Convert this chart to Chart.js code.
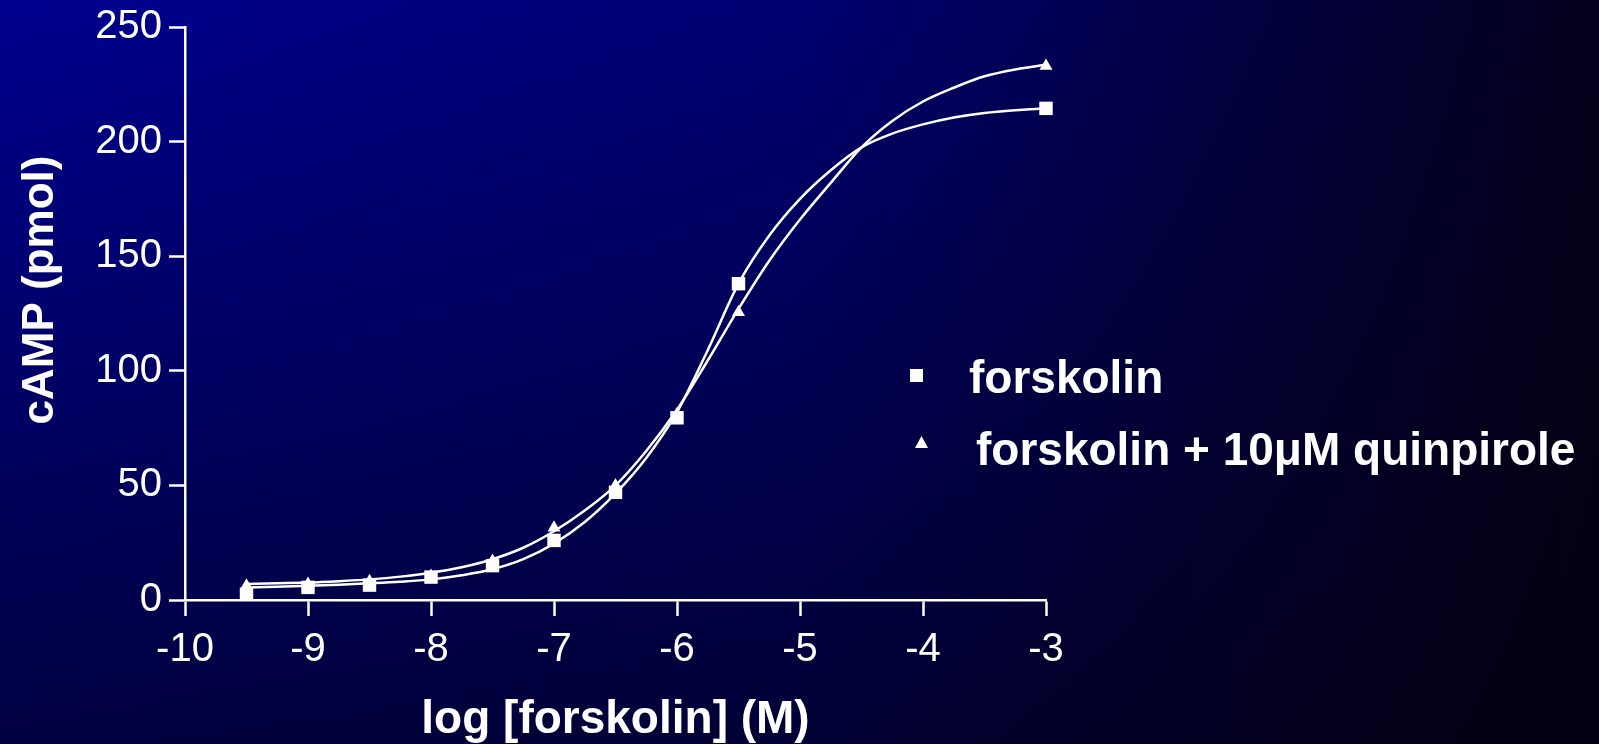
<!DOCTYPE html>
<html>
<head>
<meta charset="utf-8">
<script src="https://cdn.jsdelivr.net/npm/chart.js@4/dist/chart.umd.min.js"></script>
<style>
    html, body { margin: 0; padding: 0; overflow: hidden; background: #000040; }
    canvas { display: block; }
</style>
</head>
<body>
<canvas id="myChart" width="1599" height="744"></canvas>
<script>
//dosis (log M) medidas
const dosisLog = [-9.5, -9, -8.5, -8, -7.5, -7, -6.5, -6, -5.5, -3];
//cAMP (pmol) con forskolina sola
const forskolina = [2.5, 5.5, 6.5, 10, 15, 26, 47, 79.5, 138, 214.5];
//cAMP (pmol) con forskolina + quinpirol 10 uM
const forskolinaQuinpirol = [6.2, 7, 8.2, 10.5, 17, 31.5, 50, 81, 125.5, 233];

//curvas ajustadas, leídas cada 0.25 log
const curvaX = [-9.5, -9.25, -9, -8.75, -8.5, -8.25, -8, -7.75, -7.5, -7.25, -7, -6.75, -6.5,
    -6.25, -6, -5.75, -5.5, -5.25, -5, -4.75, -4.5, -4.25, -4, -3.75, -3.5, -3.25, -3];
const curvaForskolina = [5.5, 5.8, 6.2, 6.7, 7.3, 8.0, 9.0, 10.8, 13.4, 17.8, 24.6, 34, 46.5,
    62, 82, 109, 138, 159, 175, 187.5, 197.5, 203.5, 207.5, 210.5, 212.5, 213.7, 214.5];
const curvaQuinpirol = [7.0, 7.3, 7.6, 8.2, 9.0, 10.2, 11.9, 14.3, 17.8, 22.8, 30, 39, 50,
    65, 83, 104.5, 127, 148, 166, 182, 197.5, 209, 217.5, 223.5, 228.5, 231.5, 233.5];

const etiquetas = ['forskolin', 'forskolin + 10\u03BCM quinpirole'];
const tituloX = 'log [forskolin] (M)';
const tituloY = 'cAMP (pmol)';

const fuente = 'Liberation Sans, Arial, sans-serif';
const blanco = '#ffffff';

const toXY = (xs, ys) => xs.map((x, i) => ({ x: x, y: ys[i] }));

//fondo degradado azul -> negro
const fondo = {
    id: 'fondo',
    beforeDraw: (chart) => {
        const { ctx, width, height } = chart;
        ctx.save();
        const vertical = ctx.createLinearGradient(0, 0, 0, height);
        vertical.addColorStop(0, '#00008f');
        vertical.addColorStop(1, '#000040');
        ctx.fillStyle = vertical;
        ctx.fillRect(0, 0, width, height);
        const horizontal = ctx.createLinearGradient(0, 0, width, 0);
        horizontal.addColorStop(0, 'rgba(4,0,8,0)');
        horizontal.addColorStop(0.5, 'rgba(4,0,8,0.22)');
        horizontal.addColorStop(0.75, 'rgba(4,0,8,0.55)');
        horizontal.addColorStop(1, 'rgba(4,0,8,0.86)');
        ctx.fillStyle = horizontal;
        ctx.fillRect(0, 0, width, height);
        ctx.restore();
    }
};

//titulo eje y y leyenda
const textos = {
    id: 'textos',
    afterDraw: (chart) => {
        const ctx = chart.ctx;
        ctx.save();
        ctx.fillStyle = blanco;

        ctx.save();
        ctx.font = 'bold 44px ' + fuente;
        ctx.translate(41, 290);
        ctx.rotate(-Math.PI / 2);
        ctx.textAlign = 'center';
        ctx.textBaseline = 'middle';
        ctx.fillText(tituloY, 0, 0);
        ctx.restore();

        //marcadores de la leyenda
        ctx.fillRect(910, 369, 13, 13);
        ctx.beginPath();
        ctx.moveTo(921.5, 436);
        ctx.lineTo(928, 448);
        ctx.lineTo(915, 448);
        ctx.closePath();
        ctx.fill();

        ctx.font = 'bold 46px ' + fuente;
        ctx.textAlign = 'left';
        ctx.textBaseline = 'alphabetic';
        ctx.fillText(etiquetas[0], 969, 393);
        ctx.fillText(etiquetas[1], 976, 465);
        ctx.restore();
    }
};

const data = {
    datasets: [{
            label: etiquetas[0],
            data: toXY(dosisLog, forskolina),
            showLine: false,
            pointStyle: 'rect',
            pointRadius: 9.5,
            pointBackgroundColor: blanco,
            pointBorderWidth: 0,
            clip: false
        },
        {
            label: etiquetas[1],
            data: toXY(dosisLog, forskolinaQuinpirol),
            showLine: false,
            pointStyle: 'triangle',
            pointRadius: 7.5,
            pointBackgroundColor: blanco,
            pointBorderWidth: 0,
            clip: false
        },
        {
            label: 'ajuste ' + etiquetas[0],
            data: toXY(curvaX, curvaForskolina),
            showLine: true,
            borderColor: blanco,
            borderWidth: 2.5,
            pointRadius: 0,
            cubicInterpolationMode: 'monotone',
            clip: false
        },
        {
            label: 'ajuste ' + etiquetas[1],
            data: toXY(curvaX, curvaQuinpirol),
            showLine: true,
            borderColor: blanco,
            borderWidth: 2.5,
            pointRadius: 0,
            cubicInterpolationMode: 'monotone',
            clip: false
        }
    ]
};

const ejeComun = {
    border: { display: true, color: blanco, width: 2.5 },
    grid: {
        drawOnChartArea: false,
        drawTicks: true,
        tickLength: 16,
        tickWidth: 2.5,
        tickColor: blanco
    }
};

const ctx = document.getElementById('myChart').getContext('2d');
window.myChart = new Chart(ctx, {
    type: 'scatter',
    data: data,
    plugins: [fondo, textos],
    options: {
        responsive: false,
        animation: false,
        layout: { padding: { left: 0, right: 553, top: 27, bottom: 0 } },
        plugins: {
            legend: { display: false },
            tooltip: { enabled: false }
        },
        scales: {
            x: {
                ...ejeComun,
                type: 'linear',
                min: -10,
                max: -3,
                ticks: {
                    stepSize: 1,
                    color: blanco,
                    padding: 14,
                    maxRotation: 0,
                    font: { family: fuente, size: 40, lineHeight: 1 }
                },
                title: {
                    display: true,
                    text: tituloX,
                    color: blanco,
                    padding: 0,
                    font: { family: fuente, size: 46, weight: 'bold', lineHeight: 1.05 }
                },
                afterFit: (scale) => { scale.height = 144; }
            },
            y: {
                ...ejeComun,
                type: 'linear',
                min: 0,
                max: 250,
                ticks: {
                    stepSize: 50,
                    color: blanco,
                    padding: 7,
                    font: { family: fuente, size: 40, lineHeight: 1 }
                },
                afterFit: (scale) => { scale.width = 185; }
            }
        }
    }
});
</script>
</body>
</html>
